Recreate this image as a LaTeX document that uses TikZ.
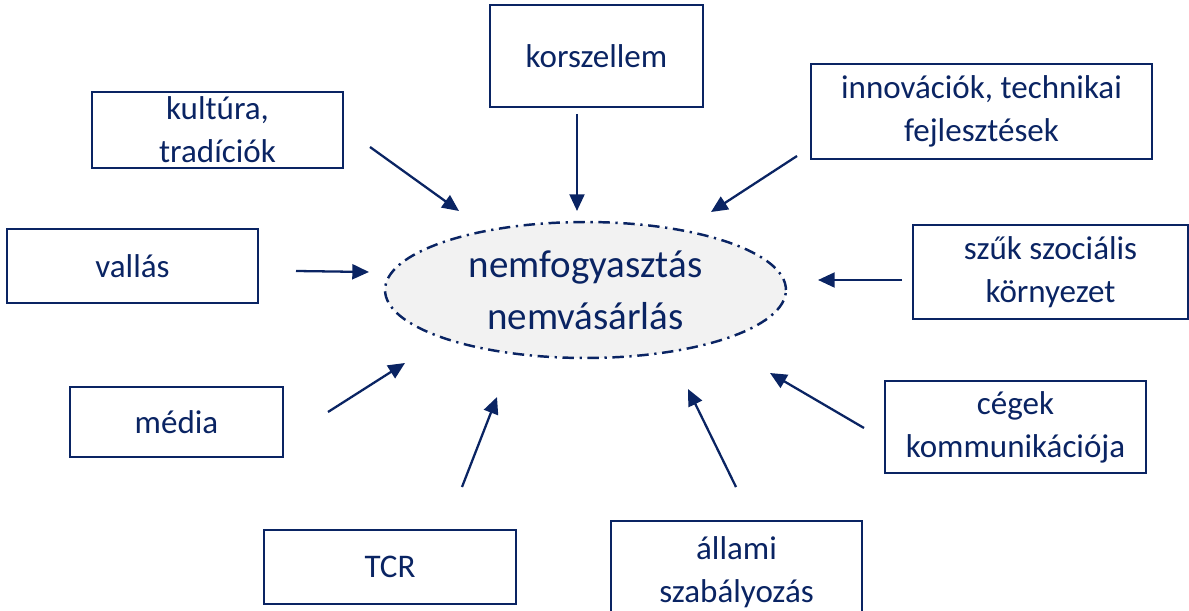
\documentclass[tikz,border=0pt]{standalone}
\usepackage{fontspec}
\setmainfont{Carlito}
\usetikzlibrary{shapes.geometric,arrows.meta}
\definecolor{navy}{HTML}{0A2463}
\definecolor{ovalfill}{HTML}{F2F2F2}
\begin{document}
\begin{tikzpicture}[x=0.02cm,y=-0.02cm,
  factorbox/.style={draw=navy,line width=1.6pt,rectangle,inner sep=0pt,
    align=center,text=navy,font=\fontsize{18.8}{24.6}\selectfont},
  centre/.style={draw=navy,fill=ovalfill,ellipse,line width=1.4pt,inner sep=0pt,
    dash pattern=on 6.5pt off 3.2pt on 1.3pt off 3.2pt,
    align=center,text=navy,font=\fontsize{22.2}{29.4}\selectfont},
  influence/.style={draw=navy,line width=1.3pt,-{Triangle[length=9.5pt,width=8.5pt]}}]
\useasboundingbox (0,0) rectangle (1189,611);

% central topic
\node[centre,minimum width=8.02cm,minimum height=2.72cm] (core) at (585.5,290)
  {nemfogyasztás\\nemvásárlás};

% surrounding factors
\node[factorbox,minimum width=4.26cm,minimum height=2.04cm] (kor) at (596.5,56) {korszellem};
\node[factorbox,minimum width=5.02cm,minimum height=1.52cm] (kult) at (217.5,130) {kultúra,\\tradíciók};
\node[factorbox,minimum width=6.82cm,minimum height=1.90cm] (inno) at (981.5,111.5) {innovációk, technikai\\fejlesztések};
\node[factorbox,minimum width=5.02cm,minimum height=1.48cm] (vall) at (132.5,266) {vallás};
\node[factorbox,minimum width=5.50cm,minimum height=1.88cm] (szuk) at (1050.5,272) {szűk szociális\\környezet};
\node[factorbox,minimum width=4.26cm,minimum height=1.40cm] (media) at (176.5,422) {média};
\node[factorbox,minimum width=5.22cm,minimum height=1.84cm] (ceg) at (1015.5,427) {cégek\\kommunikációja};
\node[factorbox,minimum width=5.04cm,minimum height=1.48cm] (tcr) at (390,567) {TCR};
\node[factorbox,minimum width=5.02cm,minimum height=2.04cm] (allam) at (736.5,572) {állami\\szabályozás};

% arrow end points
\coordinate (korA) at (577,114);   \coordinate (korB) at (577,211);
\coordinate (kultA) at (370,147);  \coordinate (kultB) at (459,211);
\coordinate (innoA) at (797,156);  \coordinate (innoB) at (711,212);
\coordinate (vallA) at (296,271);  \coordinate (vallB) at (369,272);
\coordinate (szukA) at (902,280);  \coordinate (szukB) at (818,280);
\coordinate (mediaA) at (328,412); \coordinate (mediaB) at (405,363);
\coordinate (cegA) at (864,428);   \coordinate (cegB) at (770,373);
\coordinate (tcrA) at (462,487);   \coordinate (tcrB) at (497,397);
\coordinate (allamA) at (736,487); \coordinate (allamB) at (688,389);

\draw[influence] (korA) -- (korB);
\draw[influence] (kultA) -- (kultB);
\draw[influence] (innoA) -- (innoB);
\draw[influence] (vallA) -- (vallB);
\draw[influence] (szukA) -- (szukB);
\draw[influence] (mediaA) -- (mediaB);
\draw[influence] (cegA) -- (cegB);
\draw[influence] (tcrA) -- (tcrB);
\draw[influence] (allamA) -- (allamB);
\end{tikzpicture}
\end{document}
